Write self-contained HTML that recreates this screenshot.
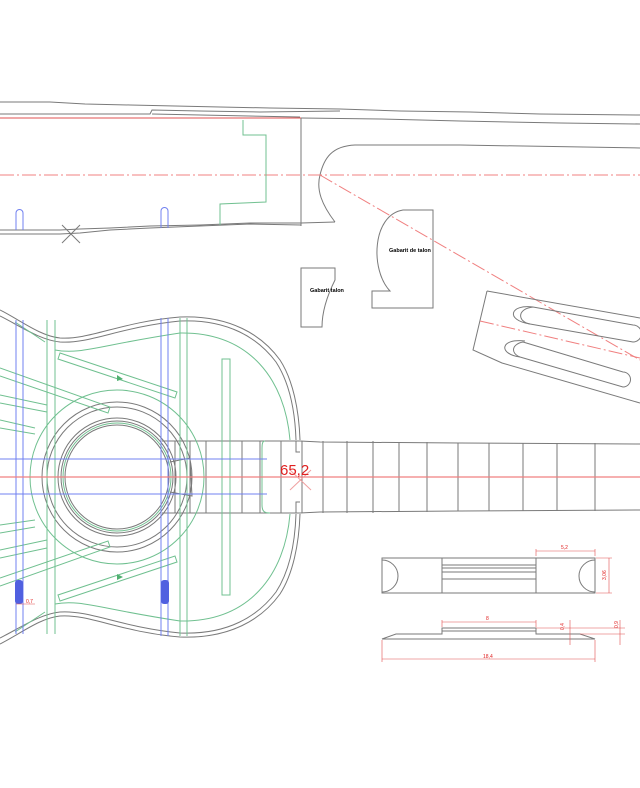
<!DOCTYPE html>
<html><head><meta charset="utf-8"><style>
html,body{margin:0;padding:0;background:#fff;}
svg{display:block;}
text{font-family:"Liberation Sans",sans-serif;}
</style></head><body>
<svg width="640" height="788" viewBox="0 0 640 788" xmlns="http://www.w3.org/2000/svg">
<g fill="none" stroke-width="1">
<!-- TOP SIDE VIEW -->
<g stroke="#7a7a7a">
<polyline points="0,102 50,102 85,104 130,105 175,106 220,107 270,108 340,109 400,111 470,112 540,114 640,115"/>
<polyline points="0,114 150,114 152,110 200,111 260,112 340,111"/>
<polyline points="152,114 300,117"/>
<polyline points="301,118 380,119 460,121 560,123 640,124"/>
<line x1="301" y1="118" x2="301" y2="226"/>
<polyline points="0,230 60,230 80,229 110,228 150,226 200,225 250,223 301,223 335,222"/>
<polyline points="0,234 60,234 80,233 110,230 150,228 200,226 250,224 301,225"/>
<path d="M335,222 C322,205 316,190 320,175 C324,158 332,146 355,145 L460,145 L640,148"/>
<line x1="62" y1="225" x2="80" y2="243"/><line x1="80" y1="225" x2="62" y2="243"/>
</g>
<line x1="0" y1="118" x2="301" y2="118" stroke="#e05050"/>
<line x1="0" y1="175" x2="640" y2="175" stroke="#f08080" stroke-dasharray="14,3,2,3"/>
<line x1="320" y1="175" x2="640" y2="360" stroke="#f08080" stroke-dasharray="14,3,2,3"/>
<polyline points="243,120 243,135 266,135 266,202 220,204 220,225" stroke="#70c090"/>
<path d="M16,230 V213 a3.5,3.5 0 0 1 7,0 V230" stroke="#7080f0"/>
<path d="M161,228 V211 a3.5,3.5 0 0 1 7,0 V228" stroke="#7080f0"/>

<!-- GABARITS -->
<g stroke="#7a7a7a">
<path d="M403,210 H433 V308 H372 V291 H390 C370,270 372,215 403,210 Z"/>
<path d="M301,268 H335 V280 C325,300 322,315 322,327 H301 Z"/>
<!-- tilted head -->
<path d="M487,291 L640,318 M487,291 L473,350 L502,363 L640,403"/>
<path d="M533,307 L633,325 A8.5,8.5 0 0 1 633,342 L530,324 C518,322 516,309 533,307"/>
<path d="M533,307 C510,304 505,320 530,324"/>
<path d="M523,342 L623,372 A7.5,7.5 0 0 1 623,387 L520,357 C510,353 512,344 523,342"/>
<path d="M525,341 C500,338 498,354 520,357"/>
</g>
<line x1="480" y1="321" x2="640" y2="358" stroke="#f08080" stroke-dasharray="14,3,2,3"/>
</g>
<text x="389" y="252" font-size="5.5" font-weight="bold">Gabarit de talon</text>
<text x="310" y="292" font-size="5.5" font-weight="bold">Gabarit talon</text>

<!-- BODY -->
<g fill="none">
<g stroke="#7a7a7a">
<path d="M0,310 C20,320 40,336 60,338 C90,340 120,322 180,317 C230,315 262,335 280,360 C293,380 299,410 300,440 M0,644 C20,634 40,618 60,616 C90,614 120,632 180,637 C230,639 262,619 280,594 C293,574 299,544 300,514"/>
<path d="M0,316 C20,326 40,340 60,342 C90,344 120,327 180,321 C228,319 258,338 276,362 C289,382 295,410 296,440 M0,638 C20,628 40,614 60,612 C90,610 120,627 180,633 C228,635 258,616 276,592 C289,572 295,544 296,514"/>
<circle cx="117" cy="477" r="75"/><circle cx="117" cy="477" r="70"/>
<circle cx="117" cy="477" r="59"/><circle cx="117" cy="477" r="56"/><circle cx="117" cy="477" r="52"/>
<!-- neck -->
<polyline points="162,441 300,441 320,442 460,443 640,444"/>
<polyline points="162,513 300,513 320,512 460,511 640,510"/>
<path d="M260,441 V513 M281,441 V513 M302,441 V513 M323,441 V513 M347,441 V513 M373,441 V513 M399,442 V512 M427,442 V512 M458,443 V511 M489,443 V511 M523,443 V511 M557,443 V511 M595,443 V511"/>
<path d="M175,441 V513 M190,441 V513 M206,441 V513 M222,441 V513 M242,441 V513"/>
<path d="M170,462 L190,458 L192,496 L170,492"/>
<path d="M296,441 V452 H300 M296,513 V502 H300"/>
</g>
<g stroke="#70c090">
<path d="M55,350 C80,355 100,345 180,333 C250,332 285,380 290,440 M55,604 C80,599 100,609 180,621 C250,622 285,574 290,514"/>
<circle cx="117" cy="477" r="87"/><circle cx="117" cy="477" r="54"/>
<path d="M47,320 V634 M55,320 V634 M180,318 V636 M187,318 V636"/>
<rect x="222" y="359" width="8" height="236"/>
<path d="M60,353 L177,392 L175,398 L58,359 Z M60,601 L177,562 L175,556 L58,595 Z"/>
<path d="M0,368 L110,407 L108,413 L0,376 M0,586 L110,547 L108,541 L0,578"/>
<path d="M0,395 L47,405 M0,403 L47,412 M0,550 L47,540 M0,558 L47,548"/>
<path d="M0,420 L35,428 M0,428 L35,434 M0,525 L35,520 M0,533 L35,527"/>
<path d="M15,322 L45,342 M15,632 L45,612"/>
<path d="M265,441 C262,441 262,445 262,450 V505 C262,512 265,513 270,513"/>
</g>
<path d="M117,375 l6,4 -6,2z M117,580 l6,-3 -6,-3z" fill="#50b070" stroke="none"/>
<g stroke="#7080f0">
<path d="M16,320 V634 M23,320 V634 M161,318 V636 M168,318 V636"/>
<path d="M0,459 H267 M0,494 H267"/>
</g>
<rect x="15" y="580" width="8" height="24" rx="3" fill="#5060e0"/>
<rect x="161" y="580" width="8" height="24" rx="3" fill="#5060e0"/>
<line x1="0" y1="477" x2="640" y2="477" stroke="#f08080" stroke-width="1.2"/>
<line x1="290" y1="470" x2="311" y2="490" stroke="#f0a0a0"/><line x1="311" y1="470" x2="290" y2="490" stroke="#f0a0a0"/>
<line x1="16" y1="604" x2="35" y2="604" stroke="#e05050" stroke-width="0.6"/>
</g>
<text x="280" y="475" font-size="15" fill="#e02020">65,2</text>
<text x="26" y="603" font-size="5" fill="#e02020">0,7</text>

<!-- BRIDGE -->
<g fill="none" stroke="#7a7a7a">
<rect x="382" y="558" width="213" height="35"/>
<path d="M442,558 V593 H536 V558 M442,565 H536 M442,568 H536 M442,572 H536 M442,579 H536"/>
<path d="M382,560 A13,13 0 0 1 382,592 M595,560 A13,13 0 0 0 595,592"/>
<path d="M382,639 L396,634 L442,634 V628 H536 V634 L580,634 L595,639 Z M442,631 H536"/>
</g>
<g fill="none" stroke="#e05050" stroke-width="0.6">
<path d="M536,556 V549 M595,556 V549 M536,551 H595"/>
<path d="M596,558 H612 M596,593 H612 M609,558 V593"/>
<path d="M442,627 V620 M536,627 V620 M442,622 H536"/>
<path d="M536,628 H625 M580,634 H625 M570,620 V645 M620,620 V645"/>
<path d="M382,640 V662 M595,640 V662 M382,659 H595"/>
</g>
<g font-size="5" fill="#e02020">
<text x="561" y="549">5,2</text>
<text x="486" y="620">8</text>
<text x="483" y="658">18,4</text>
<text transform="translate(606,580) rotate(-90)">3,06</text>
<text transform="translate(564,630) rotate(-90)">0,4</text>
<text transform="translate(618,628) rotate(-90)">0,9</text>
</g>
</svg>
</body></html>
